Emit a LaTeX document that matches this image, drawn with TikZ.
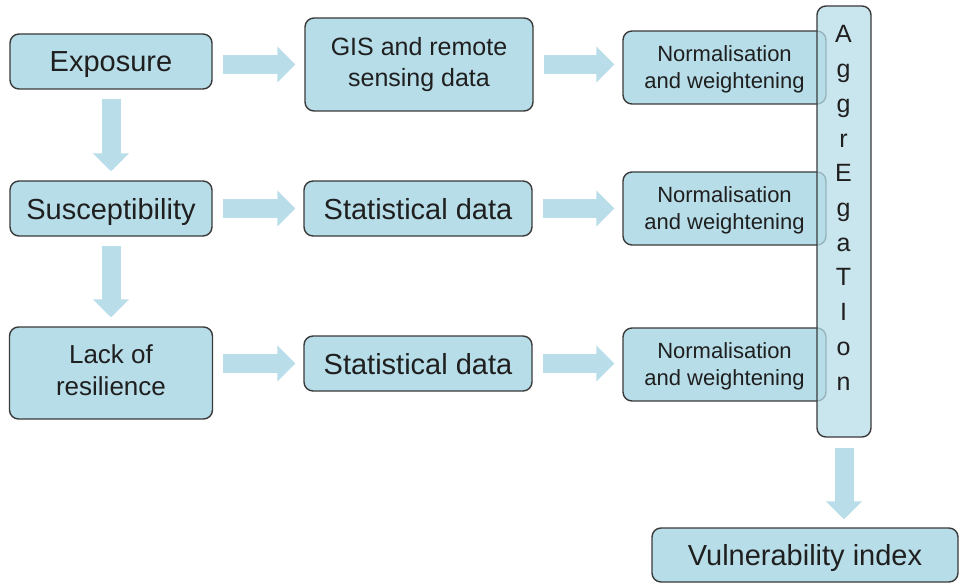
\documentclass[tikz,border=0pt]{standalone}
\usepackage{fontspec}
\setmainfont{Liberation Sans}
\usetikzlibrary{arrows.meta}

\definecolor{boxblue}{RGB}{183,221,232}
\definecolor{arrowblue}{RGB}{185,222,233}
\definecolor{linegray}{RGB}{58,58,58}

\newcommand{\bigfont}{\fontsize{29}{32}\selectfont}
\newcommand{\midfont}{\fontsize{25}{31}\selectfont}
\newcommand{\normfont}{\fontsize{22}{27}\selectfont}
\newcommand{\aggfont}{\fontsize{25}{30}\selectfont}

\begin{document}
\begin{tikzpicture}[x=1pt,y=-1pt,
    box/.style={draw=linegray, line width=1.4pt, fill=boxblue, rounded corners=9pt,
      align=center, inner sep=0pt, text=black!88},
    oneline/.style={font=\bigfont, text depth=0pt},
    fatarrow/.style={draw=arrowblue, line width=19pt,
      -{Triangle[length=18pt,width=35pt]}}]

  \useasboundingbox (0,0) rectangle (962,583);

  \begin{scope}[every node/.style={box}]
    % left column
    \node[minimum width=202pt, minimum height=55pt, oneline] (exposure) at (111,61.5) {Exposure};
    \node[minimum width=202pt, minimum height=55pt, oneline] (susc) at (111,208.5) {Susceptibility};
    \node[minimum width=203pt, minimum height=92pt, font=\fontsize{26}{32}\selectfont, text depth=5pt] (lack) at (111,373) {Lack of\\resilience};
    % data sources
    \node[minimum width=228pt, minimum height=93pt, font=\midfont] (gis) at (419,64.5) {GIS and remote\\sensing data};
    \node[minimum width=228pt, minimum height=55pt, oneline] (stat2) at (418,208.5) {Statistical data};
    \node[minimum width=228pt, minimum height=55pt, oneline] (stat3) at (418,363.5) {Statistical data};
    % normalisation
    \node[minimum width=203pt, minimum height=73pt, font=\normfont, text depth=0pt] (norm1) at (724.5,67.5) {Normalisation\\and weightening};
    \node[minimum width=203pt, minimum height=73pt, font=\normfont, text depth=0pt] (norm2) at (724.5,208.5) {Normalisation\\and weightening};
    \node[minimum width=203pt, minimum height=73pt, font=\normfont, text depth=0pt] (norm3) at (724.5,364.5) {Normalisation\\and weightening};
    % aggregation and result
    \node[minimum width=54pt, minimum height=431pt, fill opacity=0.75] (agg) at (844,221.5) {};
    \node[minimum width=306pt, minimum height=54pt, oneline] (vuln) at (805,555) {Vulnerability index};
  \end{scope}

  \foreach \ch [count=\i from 0] in {A,g,g,r,E,g,a,T,I,o,n}
    \node[anchor=base, font=\aggfont, text=black!88] (agg\i) at (843.5,{43+34.7*\i}) {\ch};

  \begin{scope}[every edge/.style={fatarrow}]
    \path (exposure.east |- gis) edge[shorten <=10pt, shorten >=9pt] (gis);
    \path (gis) edge[shorten <=10pt, shorten >=8pt] (norm1.west |- gis);
    \path (susc) edge[shorten <=10pt, shorten >=8pt] (stat2);
    \path (stat2) edge[shorten <=10pt, shorten >=8pt] (norm2);
    \path (lack.east |- stat3) edge[shorten <=10pt, shorten >=8pt] (stat3);
    \path (stat3) edge[shorten <=10pt, shorten >=8pt] (norm3.west |- stat3);
    \path (exposure) edge[shorten <=9pt, shorten >=9pt] (susc);
    \path (susc) edge[shorten <=9pt, shorten >=9pt] (lack);
    \path (agg) edge[shorten <=10pt, shorten >=8pt] (agg |- vuln.north);
  \end{scope}

\end{tikzpicture}
\end{document}
